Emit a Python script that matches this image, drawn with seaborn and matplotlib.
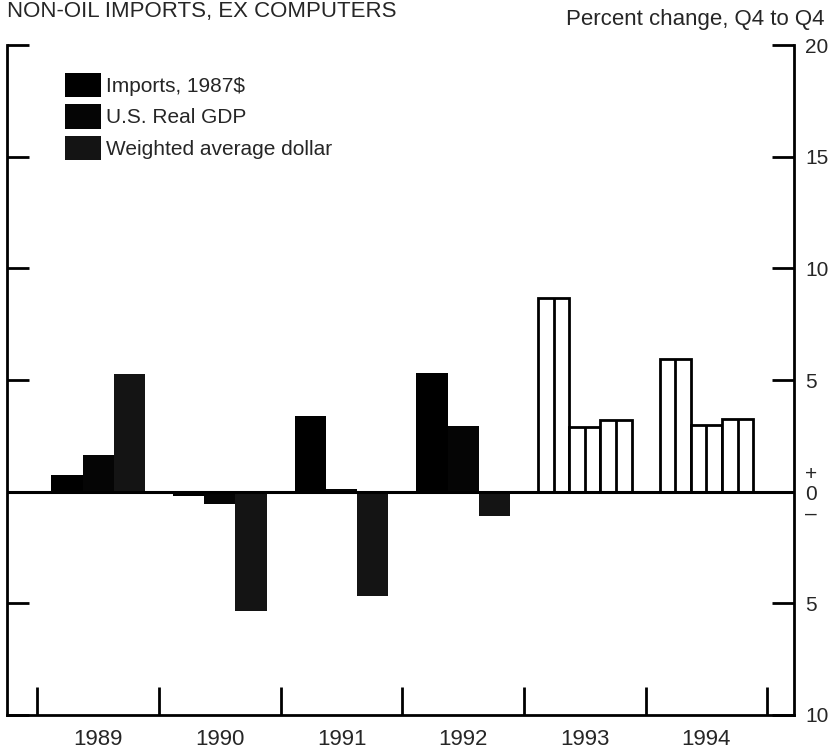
import numpy as np
import pandas as pd
import matplotlib
matplotlib.use("Agg")
import matplotlib.pyplot as plt
from matplotlib.patches import Patch
import seaborn as sns

sns.set_style("white")
plt.rcParams['font.family'] = ['Liberation Sans', 'DejaVu Sans']

# Percent change, Q4 to Q4
years = ['1989', '1990', '1991', '1992', '1993', '1994']
imports_1987 = [0.76, -0.2, 3.39, 5.31, 8.66, 5.94]
real_gdp = [1.65, -0.55, 0.13, 2.95, 2.9, 3.0]
dollar = [5.27, -5.35, -4.65, -1.1, 3.2, 3.25]
projection_years = ['1993', '1994']

series_names = ['Imports, 1987$', 'U.S. Real GDP', 'Weighted average dollar']
series_colors = ['#000000', '#050505', '#141414']

y_ticks = [-10, -5, 0, 5, 10, 15, 20]
y_labels = ['10', '5', '+\n0\n\u2013', '5', '10', '15', '20']

df = pd.DataFrame({
    'year': years * 3,
    'series': [series_names[0]] * 6 + [series_names[1]] * 6 + [series_names[2]] * 6,
    'value': imports_1987 + real_gdp + dollar,
})

fig = plt.figure(figsize=(8.31, 7.52), dpi=100)
ax = fig.add_axes([7 / 831, 1 - 715 / 752, 787 / 831, 670 / 752])

sns.barplot(data=df, x='year', y='value', hue='series', hue_order=series_names,
            palette=series_colors, width=0.77, errorbar=None, legend=False,
            saturation=1, linewidth=0, ax=ax)

# projected years: open bars split by a centre line
for container in ax.containers:
    for i, bar in enumerate(container):
        if years[i] in projection_years:
            bar.set_facecolor('white')
            bar.set_edgecolor('black')
            bar.set_linewidth(2)
            cx = bar.get_x() + bar.get_width() / 2
            ax.plot([cx, cx], [0, bar.get_height()], color='black', lw=2,
                    solid_capstyle='butt', zorder=3)

ax.axhline(0, color='black', lw=2.2, zorder=4)

ax.set_xlim(-0.75, 5.72)
ax.set_ylim(-10, 20)
ax.set_xlabel('')
ax.set_ylabel('')

ax.set_xticks(range(len(years)))
ax.set_xticklabels(years, fontsize=16)
ax.set_xticks(np.arange(-0.5, len(years)), minor=True)
ax.tick_params(axis='x', which='major', length=0, pad=10)
ax.tick_params(axis='x', which='minor', direction='in', length=20, width=2,
               color='black', bottom=True)

ax.set_yticks(y_ticks)
ax.set_yticklabels(y_labels)
ax.tick_params(axis='y', which='major', direction='in', length=16, width=2,
               color='black', left=True, right=True, labelleft=False,
               labelright=True, labelsize=15, pad=8)
for lbl in ax.get_yticklabels():
    lbl.set_linespacing(1.05)

ax.spines['top'].set_visible(False)
for side in ['left', 'right', 'bottom']:
    ax.spines[side].set_linewidth(2)
    ax.spines[side].set_color('black')

handles = [Patch(facecolor=c, edgecolor='none') for c in series_colors]
ax.legend(handles, series_names, loc='upper left', bbox_to_anchor=(0.074, 0.958),
          frameon=False, fontsize=15, handlelength=1.7, handleheight=1.4,
          handletextpad=0.25, labelspacing=0.35, borderpad=0, borderaxespad=0)

fig.text(7 / 831, 1 - 17 / 752, 'NON-OIL IMPORTS, EX COMPUTERS', fontsize=16,
         ha='left', va='baseline')
fig.text(825 / 831, 1 - 25 / 752, 'Percent change, Q4 to Q4', fontsize=16,
         ha='right', va='baseline')

fig.savefig('out.png', dpi=100)
